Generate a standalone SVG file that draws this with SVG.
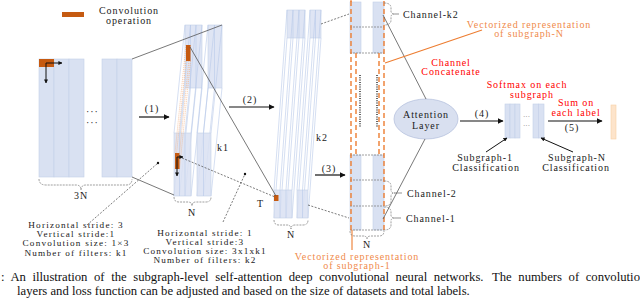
<svg xmlns="http://www.w3.org/2000/svg" width="640" height="298" viewBox="0 0 640 298">
<defs>
<style>
text{font-family:'Liberation Serif','Times New Roman',Tinos,'DejaVu Serif',serif}
.t{font-size:10px;letter-spacing:0.9px;fill:#1a1a1a}
.n{font-size:9.2px;letter-spacing:1.2px}
.m{text-anchor:middle}
.red{fill:#ff0000}
.org{fill:#f08a4b}
.cap{font-size:12.7px;fill:#111}
.blue{fill:#d9e1f2;stroke:#c3cfe8;stroke-width:0.6}
.bl{fill:#d9e1f2;fill-opacity:0.85;stroke:#c3cfe8;stroke-width:0.6}
.sl{stroke:#b8c9ea;stroke-width:0.6;fill:none}
.conv{fill:#c55a11}
.ar{stroke:#111;stroke-width:1.2;fill:none;marker-end:url(#ah)}
.ar2{stroke:#111;stroke-width:1;fill:none;marker-end:url(#ah2)}
.dsh{stroke:#444;stroke-width:0.7;stroke-dasharray:2 1.5;fill:none}
.gl{stroke:#555;stroke-width:0.8;fill:none}
.br{stroke:#777;stroke-width:0.7;stroke-dasharray:2 1;fill:none}
.od{stroke:#ed7d31;stroke-width:1.4;stroke-dasharray:5 3;fill:none}
.ol{stroke:#ed7d31;stroke-width:1.1;fill:none}
.odot{stroke:#f4b183;stroke-width:0.7;stroke-dasharray:1 1;fill:none}
</style>
<marker id="ah" viewBox="0 0 10 10" refX="9" refY="5" markerWidth="5" markerHeight="5" orient="auto"><path d="M0,0 L10,5 L0,10 z" fill="#111"/></marker>
<marker id="ah2" viewBox="0 0 10 10" refX="9" refY="5" markerWidth="4" markerHeight="4" orient="auto"><path d="M0,0 L10,5 L0,10 z" fill="#111"/></marker>
</defs>

<g id="legend">
<rect class="conv" x="62" y="12" width="22" height="5"/>
<text class="t m" x="129" y="13.5">Convolution</text>
<text class="t m" x="129" y="24">operation</text>
</g>

<g id="input">
<rect class="blue" x="39" y="59" width="15" height="118"/>
<rect class="blue" x="54" y="59" width="15" height="118"/>
<rect class="blue" x="69" y="59" width="15" height="118"/>
<rect class="blue" x="102" y="59" width="15" height="118"/>
<rect class="blue" x="117" y="59" width="15" height="118"/>
<text class="t" x="86" y="115">···</text>
<text class="t" x="86" y="126">···</text>
<rect class="conv" x="39" y="59" width="15" height="8"/>
<path class="ar2" d="M46,63 H62"/>
<path class="ar2" d="M46,63 V83"/>
<path class="br" d="M39,179 Q39,185 46,185 H76 Q81,185 81,190 Q81,185 86,185 H126 Q132,185 132,179"/>
<text class="t m" x="81" y="199">3N</text>
</g>

<g id="layer1">
<rect class="bl" x="185" y="25" width="17" height="63"/>
<rect class="bl" x="208" y="25" width="14" height="63"/>
<path class="sl" d="M190.5,25 V88 M196,25 V88 M214.5,25 V88"/>
<path class="sl" d="M185,25 L174,133 M190.5,25 L179.5,133 M196,25 L185,133 M202,25 L191,133 M208,25 L197,133 M214.5,25 L203.5,133 M222,25 L211,133"/>
<path class="sl" d="M185,88 L174,196 M190.5,88 L179.5,196 M196,88 L185,196 M202,88 L191,196 M208,88 L197,196 M214.5,88 L203.5,196 M222,88 L211,196"/>
<rect class="bl" x="174" y="133" width="17" height="63"/>
<rect class="bl" x="197" y="133" width="14" height="63"/>
<path class="sl" d="M179.5,133 V196 M185,133 V196 M203.5,133 V196"/>
<path class="odot" d="M186,45 L175,153 M190.5,45 L179.5,153 M186,61 L175,169 M190.5,61 L179.5,169"/>
<rect class="conv" x="186" y="45" width="4.5" height="16"/>
<rect class="conv" x="175" y="153" width="4.5" height="16"/>
<path class="ar2" d="M177,157 H183"/>
<path class="ar2" d="M177,157 V176"/>
<text class="t" x="217" y="151">k1</text>
<path class="br" d="M174,197 Q174,202 179,202 H188 Q192,202 192,206 Q192,202 196,202 H206 Q211,202 211,197"/>
<text class="t m" x="192" y="216">N</text>
</g>

<g id="layer2">
<rect class="bl" x="287" y="10" width="18" height="28"/>
<rect class="bl" x="310" y="10" width="11" height="28"/>
<path class="sl" d="M293,10 V38 M299,10 V38 M315.5,10 V38"/>
<path class="sl" d="M287,10 L274,190 M293,10 L280,190 M299,10 L286,190 M305,10 L292,190 M310,10 L297,190 M315.5,10 L302.5,190 M321,10 L308,190"/>
<path class="sl" d="M287,38 L274,218 M293,38 L280,218 M299,38 L286,218 M305,38 L292,218 M310,38 L297,218 M315.5,38 L302.5,218 M321,38 L308,218"/>
<rect class="bl" x="274" y="190" width="18" height="28"/>
<rect class="bl" x="297" y="190" width="11" height="28"/>
<path class="sl" d="M280,190 V218 M286,190 V218 M302.5,190 V218"/>
<rect class="conv" x="274" y="195" width="4.5" height="6"/>
<text class="t" x="257" y="207">T</text>
<text class="t" x="316" y="141">k2</text>
<path class="br" d="M274,220 Q274,225 279,225 H287 Q291,225 291,229 Q291,225 295,225 H303 Q308,225 308,220"/>
<text class="t m" x="291" y="238">N</text>
</g>

<g id="concat">
<rect class="blue" x="350" y="2" width="11" height="51"/>
<rect class="blue" x="373" y="2" width="11" height="51"/>
<rect class="blue" x="350" y="155" width="11" height="75"/>
<rect class="blue" x="373" y="155" width="11" height="75"/>
<path class="br" d="M350,27 H384 M350,53 H384 M350,155 H384 M350,180 H384 M350,206 H384 M350,230 H384"/>
<path d="M360,75 V128 M377,75 V128" stroke="#111" stroke-width="1.3" stroke-dasharray="1 1.3" fill="none"/>
<path class="od" d="M351,1 V230 M384,1 V230"/>
<path class="od" d="M356,53 V155 M379,53 V155"/>
<path class="ol" d="M351,0 V2 M352,230 V250"/>
<path class="br" d="M350,231 Q350,236 355,236 H363 Q367,236 367,239 Q367,236 371,236 H379 Q384,236 384,231"/>
<text class="t m" x="367" y="248">N</text>
<path class="br" d="M384,3 Q391,3 391,8 V11 Q391,14 395,14 Q391,14 391,17 V20 Q391,25 384,25"/>
<path d="M395,14 H399" stroke="#666" stroke-width="0.7"/>
<text class="t" x="403" y="17.5">Channel-k2</text>
<path class="br" d="M384,181 Q391,181 391,186 V190 Q391,193 395,193 Q391,193 391,196 V201 Q391,206 384,206"/>
<path d="M395,193 H402" stroke="#666" stroke-width="0.7"/>
<text class="t" x="407" y="196.5">Channel-2</text>
<path class="br" d="M384,207 Q391,207 391,212 V215 Q391,218 395,218 Q391,218 391,221 V225 Q391,230 384,230"/>
<path d="M395,218 H401" stroke="#666" stroke-width="0.7"/>
<text class="t" x="406" y="221.5">Channel-1</text>
<text class="t m org" x="529" y="27.5">Vectorized representation</text>
<text class="t m org" x="529" y="37">of subgraph-N</text>
<text class="t m red" x="451" y="65.5">Channel</text>
<text class="t m red" x="451" y="75">Concatenate</text>
<text class="t m org" x="357" y="259.5">Vectorized representation</text>
<text class="t m org" x="357" y="269">of subgraph-1</text>
</g>

<g id="attention">
<ellipse cx="426" cy="119" rx="32" ry="20" fill="#d9e0f0" stroke="#b7c3de" stroke-width="0.8"/>
<text class="t m" x="426" y="118">Attention</text>
<text class="t m" x="426" y="128.5">Layer</text>
</g>

<g id="subgraph-outputs">
<rect class="blue" x="505" y="104" width="5" height="34"/>
<rect class="blue" x="510" y="104" width="5" height="34"/>
<rect class="blue" x="515" y="104" width="5" height="34"/>
<rect class="blue" x="533" y="104" width="5.5" height="34"/>
<rect class="blue" x="538.5" y="104" width="5.5" height="34"/>
<text class="t" x="523" y="119" style="font-size:7px;letter-spacing:0;fill:#666">···</text>
<text class="t" x="523" y="128" style="font-size:7px;letter-spacing:0;fill:#666">···</text>
<text class="t m red" x="527" y="88">Softmax on each</text>
<text class="t m red" x="532" y="97.5">subgraph</text>
<text class="t m" x="485" y="160.5">Subgraph-1</text>
<text class="t m" x="486" y="170.5">Classification</text>
<text class="t m" x="577" y="160.5">Subgraph-N</text>
<text class="t m" x="576" y="170.5">Classification</text>
</g>

<g id="final-output">
<rect x="611" y="105" width="5" height="34" fill="#fde4cb" stroke="#f7cfa6" stroke-width="0.6"/>
<text class="t m red" x="576" y="105.5">Sum on</text>
<text class="t m red" x="576" y="115.5">each label</text>
</g>

<g id="connectors">
<path class="gl" d="M132,59 L222,25" stroke="#aaa"/>
<path class="gl" d="M132,177 L174,195" stroke="#aaa"/>
<path class="ar" d="M139,117 H169"/>
<text class="t m" x="152" y="112">(1)</text>
<path class="ar" d="M229,107 H274"/>
<text class="t m" x="250" y="102.5">(2)</text>
<path class="ar" d="M315,175 H345"/>
<text class="t m" x="329" y="171.5">(3)</text>
<path class="ar" d="M460,121 H503"/>
<text class="t m" x="482" y="116.5">(4)</text>
<path class="ar" d="M548,121 H602"/>
<text class="t m" x="572" y="131">(5)</text>
<path class="gl" d="M190,47 L276,196"/>
<path class="dsh" d="M182,158 L275,197"/>
<path class="dsh" d="M87,225 L158,163"/>
<circle cx="158" cy="163" r="1.2" fill="#111"/>
<path class="dsh" d="M223,222 L245,174"/>
<circle cx="245" cy="174" r="1.2" fill="#111"/>
<path class="dsh" d="M321,24 L349,14"/>
<path class="dsh" d="M308,205 L349,218"/>
<path class="gl" d="M383,15 L426,99"/>
<path class="gl" d="M425,139 L383,219"/>
<path class="ol" d="M385,63 L482,30"/>
<path class="ar2" d="M486,152 L507,138"/>
<path class="ar2" d="M573,152 L541,138"/>
</g>

<g id="text-notes">
<text class="t n m" x="76" y="228">Horizontal stride: 3</text>
<text class="t n m" x="76" y="237">Vertical stride:1</text>
<text class="t n m" x="76" y="246">Convolution size: 1×3</text>
<text class="t n m" x="76" y="255.5">Number of filters: k1</text>
<text class="t n m" x="205" y="235.5">Horizontal stride: 1</text>
<text class="t n m" x="205" y="244.5">Vertical stride:3</text>
<text class="t n m" x="205" y="253.5">Convolution size: 3x1xk1</text>
<text class="t n m" x="205" y="263">Number of filters: k2</text>
</g>

<g id="caption">
<text class="cap" x="1" y="281" word-spacing="3.4">: An illustration of the subgraph-level self-attention deep convolutional neural networks.<tspan x="492">The numbers of convolution</tspan></text>
<text class="cap" x="17" y="295">layers and loss function can be adjusted and based on the size of datasets and total labels.</text>
</g>
</svg>
